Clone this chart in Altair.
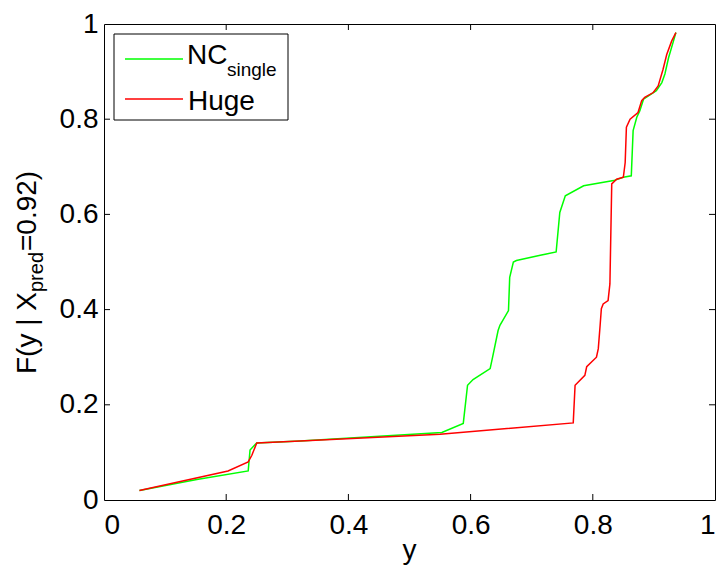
import altair as alt
import pandas as pd

# Conditional CDF curves: y value and F(y | X_pred = 0.92)
nc_y = [0.058, 0.152, 0.236, 0.239, 0.250, 0.321, 0.553, 0.588, 0.595, 0.604,
        0.632, 0.636, 0.645, 0.648, 0.662, 0.664, 0.670, 0.675, 0.714, 0.740,
        0.746, 0.755, 0.785, 0.834, 0.850, 0.863, 0.866, 0.872, 0.877, 0.883,
        0.904, 0.913, 0.918, 0.924, 0.932, 0.936]
nc_F = [0.020, 0.043, 0.061, 0.105, 0.120, 0.124, 0.142, 0.161, 0.241, 0.253,
        0.276, 0.300, 0.356, 0.367, 0.398, 0.468, 0.500, 0.503, 0.514, 0.521,
        0.604, 0.639, 0.660, 0.671, 0.678, 0.681, 0.776, 0.804, 0.818, 0.842,
        0.860, 0.877, 0.895, 0.929, 0.964, 0.982]

huge_y = [0.058, 0.203, 0.236, 0.242, 0.250, 0.321, 0.550, 0.768, 0.771, 0.787,
          0.790, 0.806, 0.809, 0.812, 0.814, 0.817, 0.825, 0.828, 0.831, 0.839,
          0.850, 0.853, 0.855, 0.861, 0.874, 0.880, 0.885, 0.899, 0.907, 0.915,
          0.921, 0.929, 0.936]
huge_F = [0.020, 0.061, 0.080, 0.094, 0.120, 0.124, 0.138, 0.162, 0.241, 0.262,
          0.280, 0.300, 0.318, 0.367, 0.402, 0.412, 0.419, 0.454, 0.664, 0.674,
          0.678, 0.709, 0.783, 0.800, 0.814, 0.839, 0.846, 0.856, 0.870, 0.905,
          0.936, 0.964, 0.982]

tick_values = [0, 0.2, 0.4, 0.6, 0.8, 1]
inner_ticks = [0.2, 0.4, 0.6, 0.8]

W, H = 611, 476
FONT = "Liberation Sans"
FS = 28
SUB = 20
GREEN = "#00ff00"
RED = "#ff0000"

nc_df = pd.DataFrame({"y": nc_y, "F": nc_F, "i": range(len(nc_y))})
huge_df = pd.DataFrame({"y": huge_y, "F": huge_F, "i": range(len(huge_y))})
ticks_df = pd.DataFrame({"y": inner_ticks, "F": inner_ticks})
one = pd.DataFrame({"a": [0]})

xscale = alt.Scale(domain=[0, 1], nice=False, zero=False)
yscale = alt.Scale(domain=[0, 1], nice=False, zero=False)
xaxis = alt.Axis(values=tick_values, format="~g", tickSize=0, domain=False,
                 grid=False, labelPadding=11, title=None)
yaxis = alt.Axis(values=tick_values, format="~g", tickSize=0, domain=False,
                 grid=False, labelPadding=6, title=None)


def X(field="y"):
    return alt.X(f"{field}:Q", scale=xscale, axis=xaxis, title=None)


def Y(field="F"):
    return alt.Y(f"{field}:Q", scale=yscale, axis=yaxis, title=None)


nc_line = alt.Chart(nc_df).mark_line(color=GREEN, strokeWidth=1.5).encode(
    x=X(), y=Y(), order="i:Q")
huge_line = alt.Chart(huge_df).mark_line(color=RED, strokeWidth=1.5).encode(
    x=X(), y=Y(), order="i:Q")

# inward-pointing ticks on all four sides of the box
tick_len = 6
bottom_ticks = alt.Chart(ticks_df).mark_rule(color="black").encode(
    x=X(), y=alt.value(H), y2=alt.value(H - tick_len))
top_ticks = alt.Chart(ticks_df).mark_rule(color="black").encode(
    x=X(), y=alt.value(0), y2=alt.value(tick_len))
left_ticks = alt.Chart(ticks_df).mark_rule(color="black").encode(
    y=Y(), x=alt.value(0), x2=alt.value(tick_len))
right_ticks = alt.Chart(ticks_df).mark_rule(color="black").encode(
    y=Y(), x=alt.value(W), x2=alt.value(W - tick_len))

# legend box
leg_box = alt.Chart(one).mark_rect(fill="white", stroke="black", strokeWidth=1).encode(
    x=alt.value(10), x2=alt.value(184), y=alt.value(10), y2=alt.value(96))
leg_green = alt.Chart(one).mark_rule(color=GREEN, strokeWidth=1.5).encode(
    x=alt.value(21), x2=alt.value(79), y=alt.value(35))
leg_red = alt.Chart(one).mark_rule(color=RED, strokeWidth=1.5).encode(
    x=alt.value(21), x2=alt.value(79), y=alt.value(75))


def label(text, x, y, size=FS, angle=0, align="left"):
    return alt.Chart(one).mark_text(
        text=text, font=FONT, fontSize=size, align=align, baseline="alphabetic",
        color="black", angle=angle).encode(x=alt.value(x), y=alt.value(y))


leg_nc = label("NC", 83, 40)
leg_single = label("single", 123, 52, SUB - 1)
leg_huge = label("Huge", 84, 86)

# x-axis title
x_title = label("y", W / 2, 535, align="center")

# rotated y-axis title with subscript
t_base = -68
t_start = 350
t1 = label("F(y | X", t_base, t_start, angle=270)
t2 = label("pred", t_base + 7, t_start - 82, SUB, angle=270)
t3 = label("=0.92)", t_base, t_start - 123, angle=270)

chart = alt.layer(
    nc_line, huge_line,
    bottom_ticks, top_ticks, left_ticks, right_ticks,
    leg_box, leg_green, leg_red, leg_nc, leg_single, leg_huge,
    x_title, t1, t2, t3,
).properties(
    width=W, height=H,
    autosize=alt.AutoSizeParams(type="none"),
    padding={"left": 104, "top": 24, "right": 6, "bottom": 65},
    background="white",
).configure_view(
    stroke="black", strokeWidth=1
).configure_axis(
    labelFont=FONT, labelFontSize=FS, labelColor="black",
)

chart.save("out.html", embed_options={"renderer": "svg", "actions": False})
